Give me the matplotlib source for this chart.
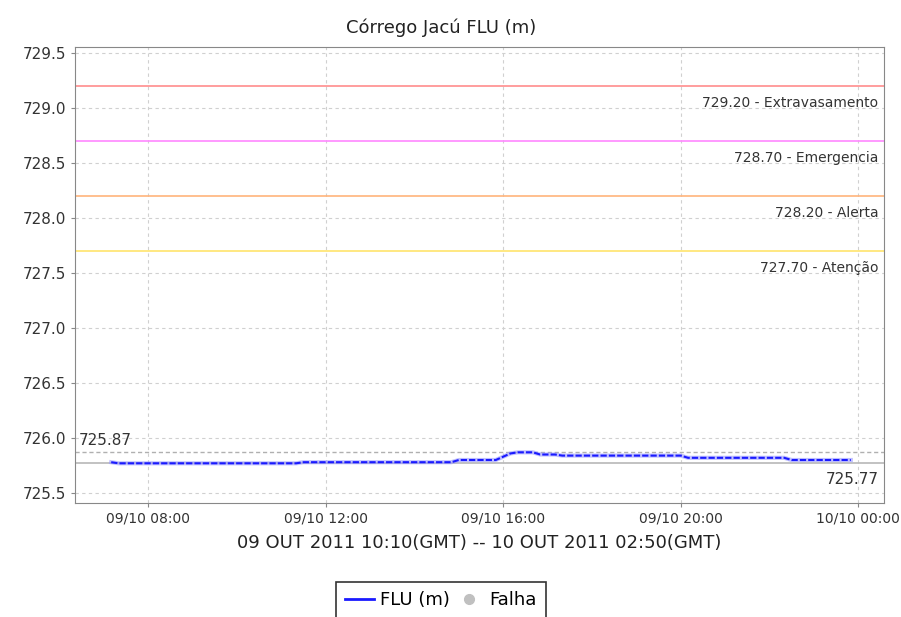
import matplotlib
matplotlib.use('Agg')
import matplotlib.pyplot as plt
import matplotlib.dates as mdates
from matplotlib.lines import Line2D
import pandas as pd

# readings (local time)
times = ['2011-10-09 07:10', '2011-10-09 07:20', '2011-10-09 11:20', '2011-10-09 11:30',
         '2011-10-09 14:50', '2011-10-09 15:00', '2011-10-09 15:50', '2011-10-09 16:10',
         '2011-10-09 16:20', '2011-10-09 16:40', '2011-10-09 16:50', '2011-10-09 17:10',
         '2011-10-09 17:20', '2011-10-09 20:00', '2011-10-09 20:10', '2011-10-09 22:20',
         '2011-10-09 22:30', '2011-10-09 23:50']
levels = [725.78, 725.77, 725.77, 725.78,
          725.78, 725.80, 725.80, 725.86,
          725.87, 725.87, 725.85, 725.85,
          725.84, 725.84, 725.82, 725.82,
          725.80, 725.80]

thresholds = [729.20, 728.70, 728.20, 727.70]
threshold_names = ['Extravasamento', 'Emergencia', 'Alerta', 'Atenção']
threshold_colors = ['#ff8c8c', '#ff88ff', '#ffb47c', '#ffe46c']

max_level = 725.87
min_level = 725.77

t = pd.to_datetime(times)

fig = plt.figure(figsize=(9.01, 6.17), dpi=100)
ax = fig.add_axes([0.0832, 0.185, 0.898, 0.739])

ax.set_ylim(725.41, 729.56)
ax.set_xlim(pd.Timestamp('2011-10-09 06:21'), pd.Timestamp('2011-10-10 00:35'))

ax.grid(True, linestyle=(0, (3, 3)), color='#d0d0d0', linewidth=0.8)
ax.set_axisbelow(True)

for val, name, col in zip(thresholds, threshold_names, threshold_colors):
    ax.axhline(val, color=col, linewidth=1.2)
    ax.annotate(f'{val:.2f} - {name}', xy=(1, val), xycoords=('axes fraction', 'data'),
                xytext=(-4, -7), textcoords='offset points', ha='right', va='top',
                fontsize=10, color='#333333')

ax.axhline(max_level, color='#b0b0b0', linestyle=(0, (3, 2)), linewidth=1)
ax.annotate(f'{max_level:.2f}', xy=(0, max_level), xycoords=('axes fraction', 'data'),
            xytext=(3, 3), textcoords='offset points', ha='left', va='bottom',
            fontsize=11, color='#333333')
ax.axhline(min_level, color='#b8b8b8', linewidth=1.2)
ax.annotate(f'{min_level:.2f}', xy=(1, min_level), xycoords=('axes fraction', 'data'),
            xytext=(-4, -6), textcoords='offset points', ha='right', va='top',
            fontsize=11, color='#333333')

ax.plot(t, levels, color='#9999ff', linewidth=3.0, alpha=0.6)
ax.plot(t, levels, color='#1a1aff', linewidth=1.5, linestyle=(0, (3, 1)))

ax.xaxis.set_major_locator(mdates.HourLocator(byhour=[0, 8, 12, 16, 20]))
ax.xaxis.set_major_formatter(mdates.DateFormatter('%d/%m %H:%M'))
ax.yaxis.set_major_locator(plt.MultipleLocator(0.5))
ax.yaxis.set_major_formatter(plt.FormatStrFormatter('%.1f'))

ax.tick_params(axis='y', labelsize=11, colors='#333333', length=3, color='#888888')
ax.tick_params(axis='x', labelsize=10, colors='#333333', length=3, color='#888888')
for s in ax.spines.values():
    s.set_color('#888888')

ax.set_xlabel('09 OUT 2011 10:10(GMT) -- 10 OUT 2011 02:50(GMT)', fontsize=13,
              color='#222222', labelpad=6)
fig.text(441 / 901, 1 - 28 / 617, 'Córrego Jacú FLU (m)', ha='center', va='center',
         fontsize=13, color='#222222')

handles = [Line2D([0], [0], color='#1a1aff', linewidth=2),
           Line2D([0], [0], marker='o', color='none', markerfacecolor='#c0c0c0',
                  markeredgecolor='#c0c0c0', markersize=7)]
leg = fig.legend(handles, ['FLU (m)', 'Falha'], loc='upper center',
                 bbox_to_anchor=(441 / 901, 1 - 582 / 617), ncol=2, fontsize=13,
                 frameon=True, fancybox=False, handlelength=1.6, handletextpad=0.3,
                 columnspacing=0.3, borderpad=0.5, borderaxespad=0)
leg.get_frame().set_edgecolor('black')
leg.get_frame().set_linewidth(1.2)

plt.savefig('out.png', dpi=100)
